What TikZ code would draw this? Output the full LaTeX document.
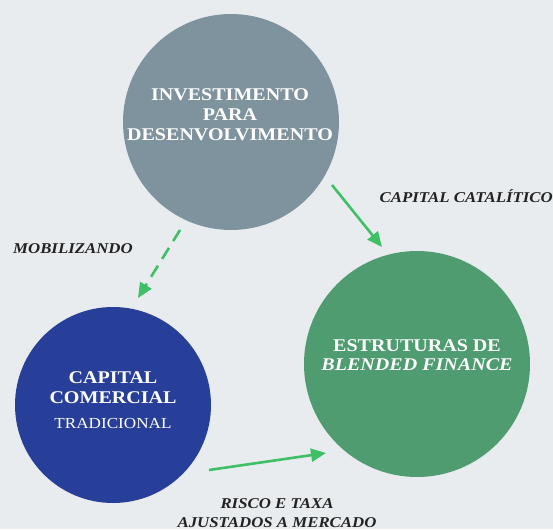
\documentclass[tikz,border=0pt]{standalone}
\usepackage{fontspec}
\setmainfont[FakeStretch=1.12]{Liberation Serif}
\usetikzlibrary{arrows.meta}
\definecolor{bg}{HTML}{E8ECEF}
\definecolor{slate}{HTML}{7F939E}
\definecolor{navy}{HTML}{283F99}
\definecolor{leaf}{HTML}{4E9C70}
\definecolor{arrowgreen}{HTML}{3FBF66}
\definecolor{ink}{HTML}{222222}
\tikzset{
  disc/.style={circle, draw=none, inner sep=0pt},
  intext/.style={anchor=base, text=white, font=\fontsize{17.9}{20}\selectfont\bfseries, inner sep=0pt},
  intextlight/.style={anchor=base, text=white, font=\fontsize{15.3}{18}\selectfont, inner sep=0pt},
  lbl/.style={text=ink, font=\fontsize{15}{18}\selectfont\bfseries\itshape, inner sep=0pt},
  flow/.style={draw=arrowgreen, line width=2.6pt, -{Triangle[length=15pt,width=13pt]}},
}
\begin{document}
\begin{tikzpicture}[x=1pt,y=-1pt]
\fill[bg] (0,0) rectangle (553,529);
\useasboundingbox (0,0) rectangle (553,529);
% circles
\node[disc, fill=slate, minimum size=216pt] (inv) at (231,122) {};
\node[disc, fill=navy, minimum size=196pt] (com) at (113,405) {};
\node[disc, fill=leaf, minimum size=226pt] (bf) at (417,364) {};
% circle texts
\node[intext] (inv1) at (230,101) {INVESTIMENTO};
\node[intext] (inv2) at (230,121) {PARA};
\node[intext] (inv3) at (230,141) {DESENVOLVIMENTO};
\node[intext] (com1) at (113,383) {CAPITAL};
\node[intext] (com2) at (113,403) {COMERCIAL};
\node[intextlight] (com3) at (113,428) {TRADICIONAL};
\node[intext] (bf1) at (417,351) {ESTRUTURAS DE};
\node[intext] (bf2) at (417,370) {\itshape BLENDED FINANCE};
% arrow ends
\coordinate (m1) at (180,230);
\coordinate (m2) at (138,298);
\coordinate (c1) at (332,185);
\coordinate (c2) at (382,247);
\coordinate (r1) at (209,470);
\coordinate (r2) at (326,453);
\draw[flow, dash pattern=on 13pt off 8pt] (m1) -- (m2);
\draw[flow] (c1) -- (c2);
\draw[flow] (r1) -- (r2);
% labels
\node[lbl, anchor=base west] (mob) at (13,253) {MOBILIZANDO};
\node[lbl, anchor=base east] (cat) at (553,202) {CAPITAL CATALÍTICO};
\node[lbl, anchor=base] (ris1) at (277,508) {RISCO E TAXA};
\node[lbl, anchor=base] (ris2) at (277,527) {AJUSTADOS A MERCADO};
\end{tikzpicture}
\end{document}
